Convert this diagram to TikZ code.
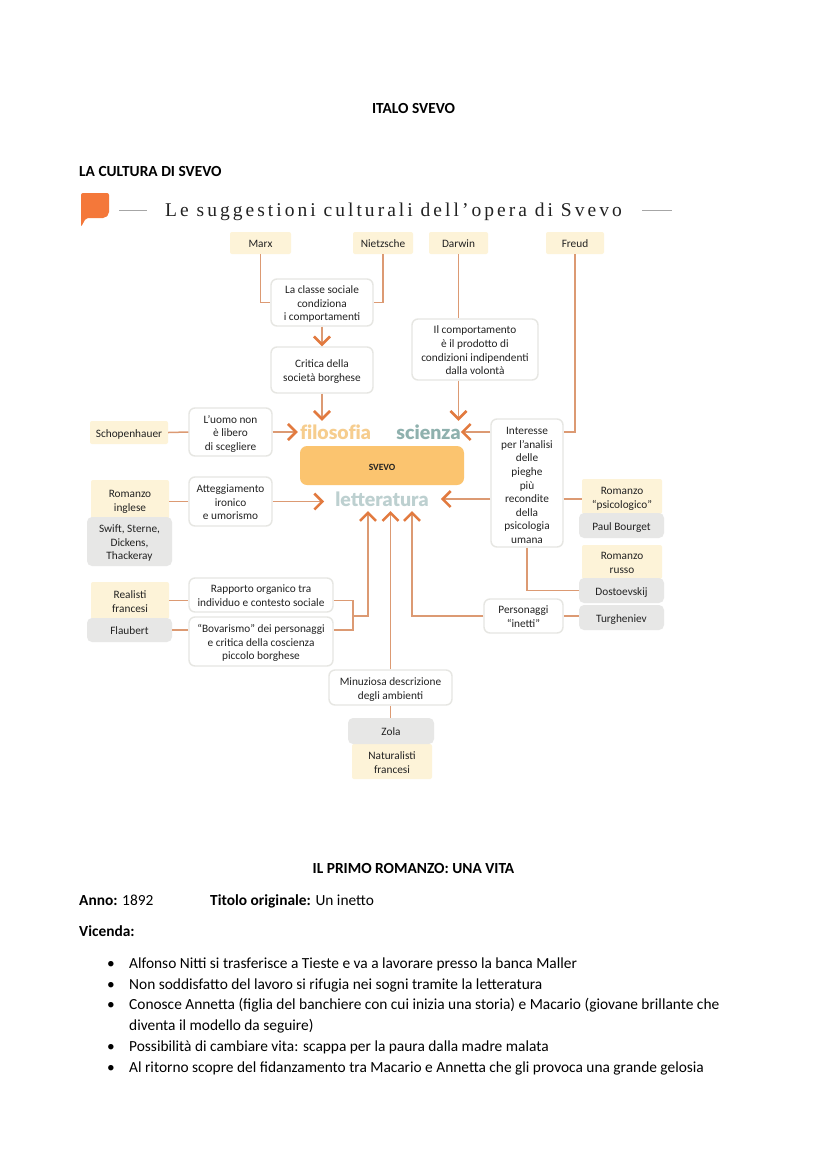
\documentclass[tikz,border=0pt]{standalone}
\usepackage{fontspec}
\setmainfont{Carlito}
\newfontfamily\titlefont[LetterSpace=15.5]{Liberation Serif}
\newfontfamily\headfont[BoldFont={Lato Black}]{Lato}
\usetikzlibrary{arrows.meta,calc}
\definecolor{ink}{HTML}{222222}
\definecolor{lineor}{HTML}{DC9A73}
\definecolor{tipor}{HTML}{E27A3F}
\definecolor{flag}{HTML}{F4783A}
\definecolor{yel}{HTML}{FDF3D8}
\definecolor{gry}{HTML}{E7E7E6}
\definecolor{edge}{HTML}{E6E6E2}
\definecolor{sv}{HTML}{FBC46F}
\definecolor{filo}{HTML}{F6CD8E}
\definecolor{sci}{HTML}{8FB1AE}
\definecolor{lett}{HTML}{BDD0D0}
\tikzset{
  lab/.style={align=center,inner sep=0pt,text=ink,font=\fontsize{11.3}{13.6}\selectfont,
    execute at end node=\rule[-3pt]{0pt}{3pt}},
  yelbox/.style={lab,fill=yel,rounded corners=2pt},
  grybox/.style={lab,fill=gry,rounded corners=5pt},
  whitebox/.style={lab,fill=white,draw=edge,line width=1.4pt,rounded corners=6pt},
  svbox/.style={lab,fill=sv,rounded corners=7pt,font=\fontsize{9.5}{11}\selectfont\bfseries},
  bigword/.style={inner sep=0pt,font=\fontsize{19.5}{20}\headfont\bfseries},
  link/.style={draw=lineor,line width=1.5pt},
  arrow/.style={link,-{Straight Barb[color=tipor,length=8pt,width=16pt,line width=2.6pt]},shorten >=0pt},
  doc/.style={anchor=base west,inner sep=0pt,text=black,font=\fontsize{15.4}{20.7}\selectfont},
  rulegray/.style={draw=gray!70,line width=0.8pt}
}
\newcommand{\bx}[7]{\node[#2,minimum width={(#5-#3)*1pt},minimum height={(#6-#4)*1pt}] (#1) at ({(#3+#5)/2},{(#4+#6)/2}) {\rule{0pt}{12.5pt}#7};}
\newcommand{\plainbx}[7]{\node[#2,minimum width={(#5-#3)*1pt},minimum height={(#6-#4)*1pt}] (#1) at ({(#3+#5)/2},{(#4+#6)/2}) {#7};}
\begin{document}
\begin{tikzpicture}[x=1pt,y=-1pt]
\useasboundingbox (0,0) rectangle (828,1171);
\fill[white] (0,0) rectangle (828,1171);
% page text
\node[doc,anchor=base] (t1) at (413.5,113) {\textbf{ITALO SVEVO}};
\node[doc] (t2) at (79,176) {\textbf{LA CULTURA DI SVEVO}};
\node[doc,anchor=base] (t3) at (413.5,873.5) {\textbf{IL PRIMO ROMANZO: UNA VITA}};
\node[doc] (t4) at (79,905) {\textbf{Anno:} 1892};
\node[doc] (t5) at (210,905) {\textbf{Titolo originale:} Un inetto};
\node[doc] (t6) at (79,936) {\textbf{Vicenda:}};
\foreach \n/\yy in {a/968,b/989,c/1009.5,d/1051,e/1072}{\node[doc] (bu\n) at (107,\yy) {•};}
\node[doc] (l1) at (129,968) {Alfonso Nitti si trasferisce a Tieste e va a lavorare presso la banca Maller};
\node[doc] (l2) at (129,989) {Non soddisfatto del lavoro si rifugia nei sogni tramite la letteratura};
\node[doc] (l3) at (129,1009.5) {Conosce Annetta (figlia del banchiere con cui inizia una storia) e Macario (giovane brillante che};
\node[doc] (l3b) at (129,1030.5) {diventa il modello da seguire)};
\node[doc] (l4) at (129,1051) {Possibilità di cambiare vita: scappa per la paura dalla madre malata};
\node[doc] (l5) at (129,1072) {Al ritorno scopre del fidanzamento tra Macario e Annetta che gli provoca una grande gelosia};
% header
\fill[flag,rounded corners=2pt] (81,193) -- (109,193) -- (109,214) -- (105,218) -- (86,218) -- (81,227) -- cycle;
\draw[rulegray] (119,210) -- (147,210);
\draw[rulegray] (642,210) -- (672,210);
\node[anchor=base west,inner sep=0pt,text=ink,font=\fontsize{19.5}{20}\titlefont] (head) at (165,216) {Le suggestioni culturali dell’opera di Svevo};
% big words
\plainbx{filosofia}{bigword,text=filo}{300}{421}{371}{443}{f\kern0pt ilosof\kern0pt ia}
\plainbx{scienza}{bigword,text=sci}{397}{421}{460}{443}{scienza}
\plainbx{letteratura}{bigword,text=lett}{336}{488}{428}{510}{letteratura}
\bx{svevo}{svbox}{300}{446}{464}{485}{SVEVO}
% yellow
\bx{marx}{yelbox}{230}{232}{291}{254}{Marx}
\bx{nietzsche}{yelbox}{353}{232}{413}{254}{Nietzsche}
\bx{darwin}{yelbox}{429}{232}{488}{254}{Darwin}
\bx{freud}{yelbox}{546}{232}{604}{254}{Freud}
\bx{schop}{yelbox}{90}{421}{168}{444}{Schopenhauer}
\bx{ringlese}{yelbox}{91}{480}{169}{519}{Romanzo\\inglese}
\bx{realisti}{yelbox}{91}{582}{169}{619}{Realisti\\francesi}
\bx{natural}{yelbox}{352}{744}{432}{779}{Naturalisti\\francesi}
\bx{psico}{yelbox}{582}{479}{662}{514}{Romanzo\\“psicologico”}
\bx{russo}{yelbox}{582}{545}{662}{579}{Romanzo\\russo}
% grey
\bx{swift}{grybox}{87}{517}{172}{566}{Swift, Sterne,\\Dickens,\\Thackeray}
\bx{flaubert}{grybox}{87}{618}{172}{642}{Flaubert}
\bx{zola}{grybox}{348}{718}{434}{744}{Zola}
\bx{bourget}{grybox}{579}{513}{664}{538}{Paul Bourget}
\bx{dosto}{grybox}{579}{578}{664}{603}{Dostoevskij}
\bx{turg}{grybox}{579}{605}{664}{630}{Turgheniev}
% white
\bx{classe}{whitebox}{271}{279}{373}{326}{La classe sociale\\condiziona\\i comportamenti}
\bx{critica}{whitebox}{271}{347}{373}{393}{Critica della\\società borghese}
\bx{uomo}{whitebox}{189}{408}{272}{456}{L’uomo non\\è libero\\di scegliere}
\bx{compo}{whitebox}{412}{319}{538}{380}{Il comportamento\\è il prodotto di\\condizioni indipendenti\\dalla volontà}
\plainbx{interesse}{whitebox}{491}{419}{563}{547}{\rule{0pt}{15pt}Interesse\\per l’analisi\\delle\\pieghe\\più\\recondite\\della\\psicologia\\umana}
\bx{atteg}{whitebox}{189}{477}{272}{526}{Atteggiamento\\ironico\\e umorismo}
\bx{rapporto}{whitebox}{189}{578}{333}{612}{Rapporto organico tra\\individuo e contesto sociale}
\bx{bova}{whitebox}{189}{617}{333}{666}{“Bovarismo” dei personaggi\\e critica della coscienza\\piccolo borghese}
\bx{minuz}{whitebox}{329}{670}{452}{705}{Minuziosa descrizione\\degli ambienti}
\bx{perso}{whitebox}{484}{599}{563}{633}{Personaggi\\“inetti”}
% junctions
\coordinate (tipA) at (368,511);
\coordinate (tipC) at (412,511);
\coordinate (join) at (353,616);
% connectors
\draw[link] (marx.south) |- (classe.west);
\draw[link] (nietzsche.south) |- (classe.east);
\draw[arrow] (classe.south) -- (critica.north);
\draw[arrow] (critica.south) -- (critica.south |- filosofia.north);
\draw[link] (schop.east) -- (uomo.west);
\draw[arrow,shorten >=2pt] (uomo.east) -- (filosofia.west);
\draw[link] (darwin.south) -- (darwin.south |- compo.north);
\draw[arrow] (darwin.south |- compo.south) -- (darwin.south |- scienza.north);
\draw[link] (freud.south) |- (interesse.east |- scienza);
\draw[arrow] (interesse.west |- scienza) -- (scienza.east);
\draw[link] (atteg.west) -- (atteg.west -| ringlese.east);
\draw[arrow,shorten >=11pt] (atteg.east) -- (atteg.east -| letteratura.west);
\draw[arrow,shorten >=12pt] (interesse.west |- letteratura) -- (letteratura.east);
\draw[link] (interesse.east |- letteratura) -- (psico.west |- letteratura);
\draw[link] (interesse.south) |- (dosto.west);
\draw[link] (turg.west |- perso) -- (perso.east);
\draw[arrow] (perso.west) -| (tipC);
\draw[link] (realisti.east) -- (realisti.east -| rapporto.west);
\draw[link] (flaubert.east) -- (bova.west |- flaubert.east);
\draw[link] (rapporto.east |- realisti.east) -| (join) |- (bova.east |- flaubert.east);
\draw[arrow] (join) -| (tipA);
\draw[arrow] (minuz.north) -- (minuz.north |- tipA);
\draw[link] (zola.north -| minuz.north) -- (minuz.south);
\end{tikzpicture}
\end{document}
